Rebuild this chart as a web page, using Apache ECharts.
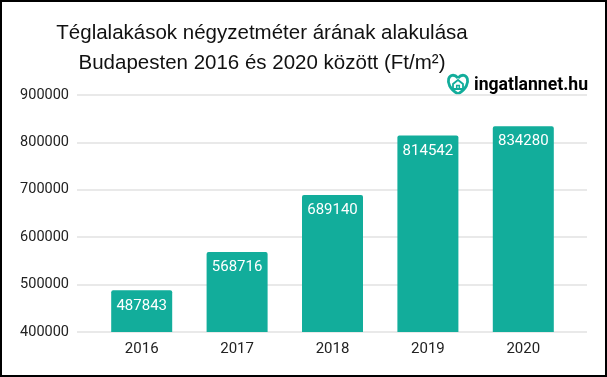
<!DOCTYPE html>
<html>
<head>
<meta charset="utf-8">
<script src="https://cdn.jsdelivr.net/npm/echarts@6/dist/echarts.min.js"></script>
<style>
html,body{margin:0;padding:0;background:#fff;}
#chart{width:607px;height:377px;}
</style>
</head>
<body>
<div id="chart"></div>
<script>
var years = ['2016', '2017', '2018', '2019', '2020'];
var prices = [487843, 568716, 689140, 814542, 834280];
var titleLines = ['Téglalakások négyzetméter árának alakulása', 'Budapesten 2016 és 2020 között (Ft/m²)'];

var teal = '#12ad9b';
var myChart = echarts.init(document.getElementById('chart'));

var option = {
    backgroundColor: '#fff',
    animation: false,
    title: {
        text: titleLines.join('\n'),
        left: 257,
        top: 13,
        textAlign: 'center',
        textStyle: {
            fontFamily: 'Liberation Sans',
            fontSize: 20.5,
            fontWeight: 'normal',
            color: '#111',
            lineHeight: 30
        }
    },
    grid: [
        {left: 77, right: 20, top: 95, bottom: 45},
        {left: 94, right: 36, top: 95, bottom: 45}
    ],
    xAxis: [
        {gridIndex: 0, type: 'category', data: ['a'], show: false},
        {
            gridIndex: 1, type: 'category', data: years,
            axisLine: {show: false}, axisTick: {show: false},
            axisLabel: {margin: 10, fontSize: 15, color: '#222', fontFamily: 'Roboto'}
        }
    ],
    yAxis: [
        {
            gridIndex: 0, type: 'value', min: 400000, max: 900000, interval: 100000,
            axisLine: {show: false}, axisTick: {show: false},
            axisLabel: {
                margin: 8, fontSize: 14.5, color: '#222', fontFamily: 'Roboto',
                formatter: function (v) { return String(v); }
            },
            splitLine: {lineStyle: {color: '#e2e2e2', width: 1.5}}
        },
        {gridIndex: 1, type: 'value', min: 400000, max: 900000, interval: 100000, show: false}
    ],
    series: [{
        type: 'bar',
        xAxisIndex: 1,
        yAxisIndex: 1,
        data: prices,
        barWidth: 61,
        itemStyle: {color: teal, borderRadius: [2, 2, 0, 0]},
        label: {
            show: true,
            position: 'insideTop',
            distance: 8,
            color: '#fff',
            fontSize: 15,
            fontFamily: 'Roboto'
        }
    }],
    graphic: [
        {
            type: 'rect',
            shape: {x: 1, y: 1, width: 605, height: 375},
            style: {fill: 'none', stroke: '#000', lineWidth: 2},
            silent: true
        },
        {
            type: 'group',
            x: 445, y: 74,
            children: [
                {
                    type: 'bezierCurve',
                    shape: {x1: 13, y1: 20, cpx1: -4, cpy1: 10, cpx2: 5, cpy2: -5, x2: 13, y2: 4},
                    style: {fill: 'none', stroke: teal, lineWidth: 2.8}
                },
                {
                    type: 'bezierCurve',
                    shape: {x1: 13, y1: 20, cpx1: 30, cpy1: 10, cpx2: 21, cpy2: -5, x2: 13, y2: 4},
                    style: {fill: 'none', stroke: teal, lineWidth: 2.8}
                },
                {
                    type: 'polyline',
                    shape: {points: [[8, 15], [8, 10], [13, 6], [18, 10], [18, 15], [8, 15]]},
                    style: {fill: 'none', stroke: teal, lineWidth: 1.8}
                },
                {
                    type: 'polyline',
                    shape: {points: [[11.7, 15], [11.7, 11.5], [14.3, 11.5], [14.3, 15]]},
                    style: {fill: 'none', stroke: teal, lineWidth: 1.5}
                }
            ]
        },
        {
            type: 'text',
            x: 474, y: 86,
            style: {
                text: '{a|ingatlannet}{b|.hu}',
                verticalAlign: 'middle',
                rich: {
                    a: {fontFamily: 'Roboto', fontWeight: 'bold', fontSize: 17.6, color: '#3d4a5c'},
                    b: {fontFamily: 'Roboto', fontWeight: 'bold', fontSize: 17.6, color: teal}
                }
            }
        }
    ]
};
myChart.setOption(option);
</script>
</body>
</html>
